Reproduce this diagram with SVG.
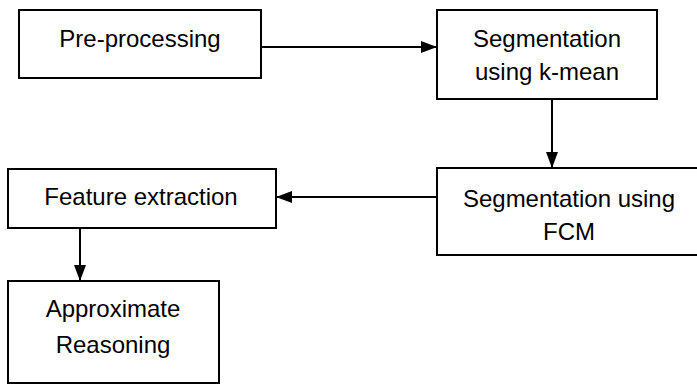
<svg xmlns="http://www.w3.org/2000/svg" width="697" height="385" viewBox="0 0 697 385">
  <style>
    .box { fill: #ffffff; stroke: #000000; stroke-width: 2; }
    .label { font-family: "Liberation Sans", Arial, sans-serif; font-size: 24px; fill: #000000; text-anchor: middle; }
    .link { fill: none; stroke: #000000; stroke-width: 2; }
  </style>
  <defs>
    <marker id="arrow" markerUnits="userSpaceOnUse" markerWidth="16" markerHeight="12" refX="16" refY="6" orient="auto">
      <path d="M0,0 L16,6 L0,12 Z" fill="#000000"/>
    </marker>
  </defs>
  <rect width="697" height="385" fill="#ffffff"/>

  <g id="preprocessing">
    <rect class="box" x="19" y="10" width="242" height="68"/>
    <text class="label" x="140" y="47">Pre-processing</text>
  </g>

  <g id="seg-kmean">
    <rect class="box" x="437" y="10" width="220" height="89"/>
    <text class="label" x="547" y="47">Segmentation</text>
    <text class="label" x="547" y="80">using k-mean</text>
  </g>

  <g id="seg-fcm">
    <rect class="box" x="437" y="168" width="270" height="87"/>
    <text class="label" x="569" y="207">Segmentation using</text>
    <text class="label" x="569" y="240">FCM</text>
  </g>

  <g id="feature-extraction">
    <rect class="box" x="8" y="169" width="268" height="59"/>
    <text class="label" x="141" y="205">Feature extraction</text>
  </g>

  <g id="approx-reasoning">
    <rect class="box" x="8" y="281" width="211" height="102"/>
    <text class="label" x="113" y="317">Approximate</text>
    <text class="label" x="113" y="353">Reasoning</text>
  </g>

  <g id="connectors">
    <line class="link" x1="261" y1="47" x2="437" y2="47" marker-end="url(#arrow)"/>
    <line class="link" x1="552" y1="99" x2="552" y2="168" marker-end="url(#arrow)"/>
    <line class="link" x1="437" y1="197" x2="276" y2="197" marker-end="url(#arrow)"/>
    <line class="link" x1="80" y1="228" x2="80" y2="281" marker-end="url(#arrow)"/>
  </g>
</svg>
